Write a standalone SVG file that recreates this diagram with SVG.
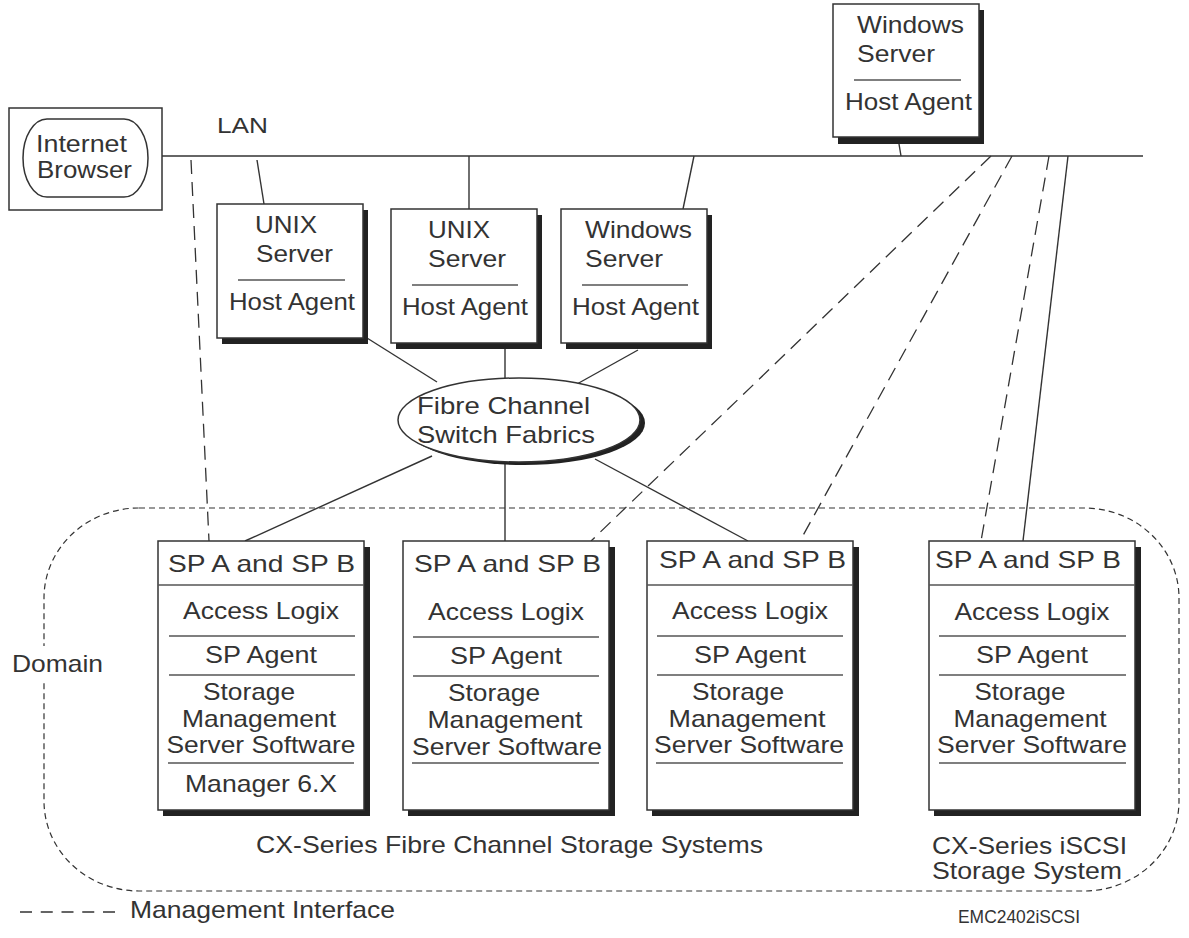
<svg xmlns="http://www.w3.org/2000/svg" width="1189" height="938" viewBox="0 0 1189 938">
<style>
text{font-family:"Liberation Sans",Arial,sans-serif;font-size:24px;fill:#333}
.box{fill:#fff;stroke:#333;stroke-width:1.5}
.sh{fill:#222}
.sep{stroke:#555;stroke-width:1.3}
.ln{stroke:#333;stroke-width:1.4;fill:none}
.dl{stroke:#333;stroke-width:1.3;fill:none;stroke-dasharray:14 8}
.dom{stroke:#333;stroke-width:1.2;fill:none;stroke-dasharray:6 4}
.m{text-anchor:middle}
</style>
<rect width="1189" height="938" fill="#fff"/>

<g id="domain">
<rect class="dom" x="44" y="508" width="1135" height="383" rx="95" ry="90"/>
<rect x="10" y="646" width="96" height="34" fill="#fff"/>
<text x="12" y="672" textLength="91" lengthAdjust="spacingAndGlyphs">Domain</text>
</g>

<g id="connectors">
<line class="ln" x1="158" y1="156" x2="1143" y2="156"/>
<line class="ln" x1="899" y1="144" x2="901" y2="156"/>
<line class="ln" x1="257" y1="160" x2="264" y2="204"/>
<line class="ln" x1="469" y1="156" x2="469" y2="209"/>
<line class="ln" x1="694" y1="156" x2="683" y2="209"/>
<line class="dl" x1="191" y1="160" x2="209" y2="541"/>
<line class="dl" x1="991" y1="156" x2="591" y2="541"/>
<line class="dl" x1="1012" y1="156" x2="800" y2="541"/>
<line class="dl" x1="1049" y1="156" x2="981" y2="541"/>
<line class="ln" x1="1068" y1="156" x2="1023" y2="541"/>
<line class="ln" x1="367" y1="338" x2="437" y2="382"/>
<line class="ln" x1="505" y1="348" x2="505" y2="379"/>
<line class="ln" x1="638" y1="350" x2="577" y2="384"/>
<line class="ln" x1="432" y1="456" x2="245" y2="541"/>
<line class="ln" x1="505" y1="462" x2="505" y2="541"/>
<line class="ln" x1="595" y1="459" x2="748" y2="541"/>
</g>

<g id="internet-browser">
<rect class="box" x="9" y="108" width="153" height="102"/>
<rect class="box" x="23" y="119" width="125" height="78" rx="24" ry="39"/>
<text x="36" y="152" textLength="91" lengthAdjust="spacingAndGlyphs">Internet</text>
<text x="37" y="178" textLength="95" lengthAdjust="spacingAndGlyphs">Browser</text>
</g>

<g id="lan-label">
<text x="217" y="133" style="font-size:22px" textLength="51" lengthAdjust="spacingAndGlyphs">LAN</text>
</g>

<g id="windows-server-top">
<rect class="sh" x="838" y="10" width="146" height="134"/>
<rect class="box" x="833" y="4" width="146" height="133"/>
<text x="857" y="33" textLength="107" lengthAdjust="spacingAndGlyphs">Windows</text>
<text x="857" y="62" textLength="78" lengthAdjust="spacingAndGlyphs">Server</text>
<line class="sep" x1="854" y1="80" x2="961" y2="80"/>
<text x="845" y="110" textLength="127" lengthAdjust="spacingAndGlyphs">Host Agent</text>
</g>

<g id="unix-server-1">
<rect class="sh" x="222" y="210" width="146" height="134"/>
<rect class="box" x="217" y="204" width="146" height="134"/>
<text x="255" y="233" textLength="62" lengthAdjust="spacingAndGlyphs">UNIX</text>
<text x="256" y="262" textLength="77" lengthAdjust="spacingAndGlyphs">Server</text>
<line class="sep" x1="238" y1="280" x2="345" y2="280"/>
<text x="229" y="310" textLength="126" lengthAdjust="spacingAndGlyphs">Host Agent</text>
</g>

<g id="unix-server-2">
<rect class="sh" x="396" y="215" width="146" height="134"/>
<rect class="box" x="391" y="209" width="146" height="134"/>
<text x="428" y="238" textLength="62" lengthAdjust="spacingAndGlyphs">UNIX</text>
<text x="428" y="267" textLength="78" lengthAdjust="spacingAndGlyphs">Server</text>
<line class="sep" x1="412" y1="285" x2="518" y2="285"/>
<text x="402" y="315" textLength="126" lengthAdjust="spacingAndGlyphs">Host Agent</text>
</g>

<g id="windows-server-2">
<rect class="sh" x="566" y="215" width="146" height="134"/>
<rect class="box" x="561" y="209" width="146" height="134"/>
<text x="585" y="238" textLength="107" lengthAdjust="spacingAndGlyphs">Windows</text>
<text x="585" y="267" textLength="78" lengthAdjust="spacingAndGlyphs">Server</text>
<line class="sep" x1="582" y1="285" x2="688" y2="285"/>
<text x="572" y="315" textLength="127" lengthAdjust="spacingAndGlyphs">Host Agent</text>
</g>

<g id="fibre-channel-switch">
<ellipse cx="524" cy="423" rx="121" ry="42" fill="#222"/>
<ellipse cx="519" cy="420" rx="121" ry="42" fill="#fff" stroke="#333" stroke-width="1.5"/>
<text x="417" y="414" textLength="173" lengthAdjust="spacingAndGlyphs">Fibre Channel</text>
<text x="417" y="443" textLength="178" lengthAdjust="spacingAndGlyphs">Switch Fabrics</text>
</g>

<g id="storage-1">
<rect class="sh" x="163" y="547" width="207" height="269"/>
<rect class="box" x="158" y="541" width="206" height="269"/>
<line class="sep" x1="158" y1="585" x2="364" y2="585"/>
<text x="168" y="572" textLength="187" lengthAdjust="spacingAndGlyphs">SP A and SP B</text>
<text class="m" x="261" y="619" textLength="156" lengthAdjust="spacingAndGlyphs">Access Logix</text>
<line class="sep" x1="169" y1="636" x2="355" y2="636"/>
<text class="m" x="261" y="663" textLength="112" lengthAdjust="spacingAndGlyphs">SP Agent</text>
<line class="sep" x1="169" y1="675" x2="355" y2="675"/>
<text class="m" x="249" y="700" textLength="92" lengthAdjust="spacingAndGlyphs">Storage</text>
<text class="m" x="259" y="727" textLength="154" lengthAdjust="spacingAndGlyphs">Management</text>
<text class="m" x="261" y="753" textLength="189" lengthAdjust="spacingAndGlyphs">Server Software</text>
<line class="sep" x1="168" y1="763" x2="354" y2="763"/>
<text class="m" x="261" y="792" textLength="152" lengthAdjust="spacingAndGlyphs">Manager 6.X</text>
</g>

<g id="storage-2">
<rect class="sh" x="408" y="547" width="207" height="269"/>
<rect class="box" x="403" y="541" width="206" height="269"/>
<text x="414" y="572" textLength="187" lengthAdjust="spacingAndGlyphs">SP A and SP B</text>
<text class="m" x="506" y="620" textLength="156" lengthAdjust="spacingAndGlyphs">Access Logix</text>
<line class="sep" x1="413" y1="637" x2="599" y2="637"/>
<text class="m" x="506" y="664" textLength="112" lengthAdjust="spacingAndGlyphs">SP Agent</text>
<line class="sep" x1="413" y1="676" x2="599" y2="676"/>
<text class="m" x="494" y="701" textLength="92" lengthAdjust="spacingAndGlyphs">Storage</text>
<text class="m" x="505" y="728" textLength="155" lengthAdjust="spacingAndGlyphs">Management</text>
<text class="m" x="507" y="755" textLength="190" lengthAdjust="spacingAndGlyphs">Server Software</text>
<line class="sep" x1="412" y1="763" x2="599" y2="763"/>
</g>

<g id="storage-3">
<rect class="sh" x="652" y="547" width="207" height="269"/>
<rect class="box" x="647" y="541" width="206" height="269"/>
<line class="sep" x1="647" y1="585" x2="853" y2="585"/>
<text x="659" y="568" textLength="187" lengthAdjust="spacingAndGlyphs">SP A and SP B</text>
<text class="m" x="750" y="619" textLength="156" lengthAdjust="spacingAndGlyphs">Access Logix</text>
<line class="sep" x1="657" y1="636" x2="843" y2="636"/>
<text class="m" x="750" y="663" textLength="112" lengthAdjust="spacingAndGlyphs">SP Agent</text>
<line class="sep" x1="657" y1="675" x2="843" y2="675"/>
<text class="m" x="738" y="700" textLength="92" lengthAdjust="spacingAndGlyphs">Storage</text>
<text class="m" x="747" y="727" textLength="157" lengthAdjust="spacingAndGlyphs">Management</text>
<text class="m" x="749" y="753" textLength="190" lengthAdjust="spacingAndGlyphs">Server Software</text>
<line class="sep" x1="656" y1="763" x2="843" y2="763"/>
</g>

<g id="storage-4">
<rect class="sh" x="934" y="547" width="207" height="269"/>
<rect class="box" x="929" y="541" width="206" height="269"/>
<line class="sep" x1="929" y1="585" x2="1135" y2="585"/>
<text x="935" y="568" textLength="186" lengthAdjust="spacingAndGlyphs">SP A and SP B</text>
<text class="m" x="1032" y="620" textLength="155" lengthAdjust="spacingAndGlyphs">Access Logix</text>
<line class="sep" x1="939" y1="636" x2="1126" y2="636"/>
<text class="m" x="1032" y="663" textLength="112" lengthAdjust="spacingAndGlyphs">SP Agent</text>
<line class="sep" x1="939" y1="675" x2="1126" y2="675"/>
<text class="m" x="1020" y="700" textLength="91" lengthAdjust="spacingAndGlyphs">Storage</text>
<text class="m" x="1030" y="727" textLength="153" lengthAdjust="spacingAndGlyphs">Management</text>
<text class="m" x="1032" y="753" textLength="190" lengthAdjust="spacingAndGlyphs">Server Software</text>
<line class="sep" x1="939" y1="763" x2="1126" y2="763"/>
</g>

<g id="labels">
<text x="256" y="853" textLength="507" lengthAdjust="spacingAndGlyphs">CX-Series Fibre Channel Storage Systems</text>
<text x="932" y="854" textLength="195" lengthAdjust="spacingAndGlyphs">CX-Series iSCSI</text>
<text x="932" y="879" textLength="190" lengthAdjust="spacingAndGlyphs">Storage System</text>
</g>

<g id="legend">
<line x1="20" y1="912" x2="115" y2="912" stroke="#333" stroke-width="1.3" stroke-dasharray="12 8.75"/>
<text x="130" y="918" textLength="265" lengthAdjust="spacingAndGlyphs">Management Interface</text>
<text x="958" y="923" style="font-size:18px" textLength="122" lengthAdjust="spacingAndGlyphs">EMC2402iSCSI</text>
</g>
</svg>
